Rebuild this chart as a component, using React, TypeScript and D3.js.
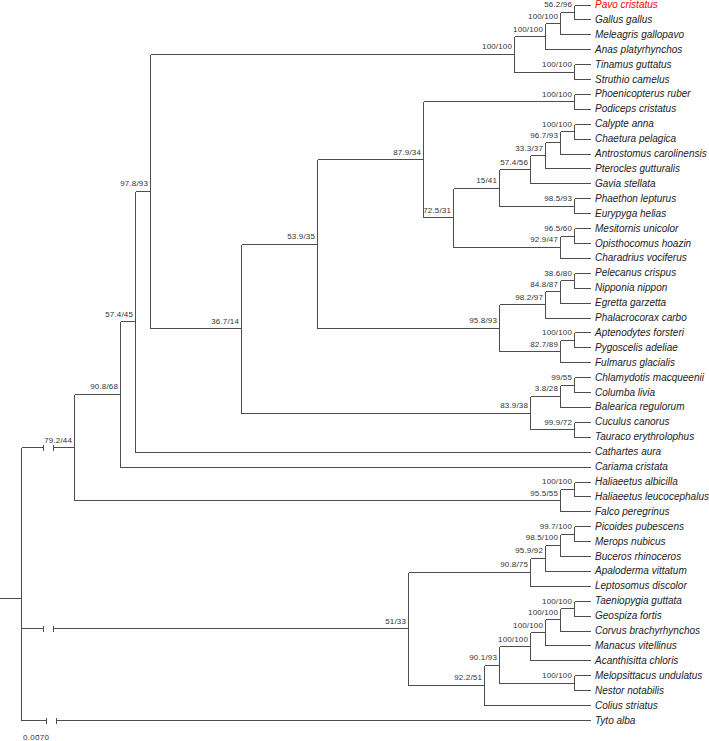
import React from "react";
import * as d3 from "d3";

// ---- Leaves (top to bottom) ----
const leafNames = [
  "Pavo cristatus", "Gallus gallus", "Meleagris gallopavo", "Anas platyrhynchos",
  "Tinamus guttatus", "Struthio camelus", "Phoenicopterus ruber", "Podiceps cristatus",
  "Calypte anna", "Chaetura pelagica", "Antrostomus carolinensis", "Pterocles gutturalis",
  "Gavia stellata", "Phaethon lepturus", "Eurypyga helias", "Mesitornis unicolor",
  "Opisthocomus hoazin", "Charadrius vociferus", "Pelecanus crispus", "Nipponia nippon",
  "Egretta garzetta", "Phalacrocorax carbo", "Aptenodytes forsteri", "Pygoscelis adeliae",
  "Fulmarus glacialis", "Chlamydotis macqueenii", "Columba livia", "Balearica regulorum",
  "Cuculus canorus", "Tauraco erythrolophus", "Cathartes aura", "Cariama cristata",
  "Haliaeetus albicilla", "Haliaeetus leucocephalus", "Falco peregrinus", "Picoides pubescens",
  "Merops nubicus", "Buceros rhinoceros", "Apaloderma vittatum", "Leptosomus discolor",
  "Taeniopygia guttata", "Geospiza fortis", "Corvus brachyrhynchos", "Manacus vitellinus",
  "Acanthisitta chloris", "Melopsittacus undulatus", "Nestor notabilis", "Colius striatus",
  "Tyto alba",
];
const leafParents = [
  "n8", "n8", "n7", "n6", "n9", "n9", "n13", "n13",
  "n19", "n19", "n18", "n17", "n16", "n20", "n20", "n22",
  "n22", "n21", "n26", "n26", "n25", "n24", "n28", "n28",
  "n27", "n31", "n31", "n30", "n32", "n32", "n3", "n2",
  "n34", "n34", "n33", "n39", "n39", "n38", "n37", "n36",
  "n45", "n45", "n44", "n43", "n42", "n46", "n46", "n40",
  "n0",
];

// ---- Internal nodes ----
const nodeIds = [
  "n0", "n1", "n2", "n3", "n4", "n5", "n6", "n7", "n8", "n9",
  "n10", "n11", "n12", "n13", "n14", "n15", "n16", "n17", "n18", "n19",
  "n20", "n21", "n22", "n23", "n24", "n25", "n26", "n27", "n28", "n29",
  "n30", "n31", "n32", "n33", "n34", "n35", "n36", "n37", "n38", "n39",
  "n40", "n41", "n42", "n43", "n44", "n45", "n46",
];
const nodeParents = [
  "", "n0", "n1", "n2", "n3", "n4", "n5", "n6", "n7", "n5",
  "n4", "n10", "n11", "n12", "n12", "n14", "n15", "n16", "n17", "n18",
  "n15", "n14", "n21", "n11", "n23", "n24", "n25", "n23", "n27", "n10",
  "n29", "n30", "n29", "n1", "n33", "n0", "n35", "n36", "n37", "n38",
  "n35", "n40", "n41", "n42", "n43", "n44", "n41",
];
const nodeSupport = [
  "", "79.2/44", "90.8/68", "57.4/45", "97.8/93", "100/100", "100/100", "100/100", "56.2/96", "100/100",
  "36.7/14", "53.9/35", "87.9/34", "100/100", "72.5/31", "15/41", "57.4/56", "33.3/37", "96.7/93", "100/100",
  "98.5/93", "92.9/47", "96.5/60", "95.8/93", "98.2/97", "84.8/87", "38.6/80", "82.7/89", "100/100", "83.9/38",
  "3.8/28", "99/55", "99.9/72", "95.5/55", "100/100", "51/33", "90.8/75", "95.9/92", "98.5/100", "99.7/100",
  "92.2/51", "90.1/93", "100/100", "100/100", "100/100", "100/100", "100/100",
];
const nodeDepth = [
  0, 0.053, 0.099, 0.114, 0.129, 0.493, 0.524, 0.539, 0.553, 0.553,
  0.220, 0.296, 0.402, 0.553, 0.432, 0.478, 0.509, 0.524, 0.539, 0.553,
  0.553, 0.539, 0.553, 0.478, 0.524, 0.539, 0.553, 0.539, 0.553, 0.509,
  0.539, 0.553, 0.553, 0.539, 0.553, 0.387, 0.509, 0.524, 0.539, 0.553,
  0.463, 0.478, 0.509, 0.524, 0.539, 0.553, 0.553,
];
const tipDepth = 0.569;

// ---- Truncated (broken) branches ----
const brokenBranches = ["n1", "n35", "Tyto alba"];
const breakFrom = [0.022, 0.022, 0.0247];
const breakTo = [0.032, 0.032, 0.0347];

const highlightedLeaf = "Pavo cristatus";
const scaleBarLabel = "0.0070";

const W = 709;
const H = 741;
const LINE = "#4d4d4d";
const FONT = "'Liberation Sans', Arial, Helvetica, sans-serif";

type Row = { id: string; parentId: string | null; depth: number; support: string; leaf: boolean };

export default function App() {
  const rows: Row[] = [
    ...nodeIds.map((id, i) => ({
      id,
      parentId: nodeParents[i] === "" ? null : nodeParents[i],
      depth: nodeDepth[i],
      support: nodeSupport[i],
      leaf: false,
    })),
    ...leafNames.map((name, i) => ({
      id: name,
      parentId: leafParents[i],
      depth: tipDepth,
      support: "",
      leaf: true,
    })),
  ];

  const root = d3
    .stratify<Row>()
    .id((d) => d.id)
    .parentId((d) => d.parentId)(rows);

  const x = d3.scaleLinear().domain([0, tipDepth]).range([21, 590]);
  const y = d3.scalePoint<string>().domain(leafNames).range([4.5, 720]);

  const yPos = new Map<string, number>();
  root.eachAfter((n: any) => {
    if (n.data.leaf) yPos.set(n.data.id, y(n.data.id) as number);
    else yPos.set(n.data.id, d3.mean(n.children, (c: any) => yPos.get(c.data.id)) as number);
  });

  const px = (v: number) => Math.round(v) + 0.5;

  const segs: { x1: number; y1: number; x2: number; y2: number }[] = [];
  const nodes = root.descendants();

  nodes.forEach((n: any) => {
    const ny = px(yPos.get(n.data.id)!);
    const nx = px(x(n.data.depth));
    if (n.parent) {
      const parX = px(x(n.parent.data.depth));
      const bi = brokenBranches.indexOf(n.data.id);
      if (bi >= 0) {
        const b1 = px(x(breakFrom[bi]));
        const b2 = px(x(breakTo[bi]));
        segs.push({ x1: parX, y1: ny, x2: b1, y2: ny });
        segs.push({ x1: b1, y1: ny - 3, x2: b1, y2: ny + 3 });
        segs.push({ x1: b2, y1: ny - 3, x2: b2, y2: ny + 3 });
        segs.push({ x1: b2, y1: ny, x2: nx, y2: ny });
      } else {
        segs.push({ x1: parX, y1: ny, x2: nx, y2: ny });
      }
    } else {
      segs.push({ x1: 0, y1: ny, x2: nx, y2: ny });
    }
    if (n.children) {
      const ys = n.children.map((c: any) => yPos.get(c.data.id)!);
      segs.push({ x1: nx, y1: px(d3.min(ys)!), x2: nx, y2: px(d3.max(ys)!) });
    }
  });

  return (
    <svg
      width={W}
      height={H}
      style={{ position: "absolute", left: 0, top: 0, background: "#fff" }}
    >
      <g shapeRendering="crispEdges">
        {segs.map((s, i) => (
          <line key={i} x1={s.x1} y1={s.y1} x2={s.x2} y2={s.y2} stroke={LINE} strokeWidth={1} />
        ))}
      </g>
      {nodes
        .filter((n: any) => !n.data.leaf && n.data.support)
        .map((n: any) => (
          <text
            key={"s" + n.data.id}
            x={x(n.data.depth) - 2}
            y={yPos.get(n.data.id)! - 4.5}
            textAnchor="end"
            fontFamily={FONT}
            fontSize={8}
            letterSpacing={0.15}
            fill="#333"
          >
            {n.data.support}
          </text>
        ))}
      {nodes
        .filter((n: any) => n.data.leaf)
        .map((n: any) => (
          <text
            key={"l" + n.data.id}
            x={x(tipDepth) + 5}
            y={yPos.get(n.data.id)!}
            dy="0.35em"
            fontFamily={FONT}
            fontSize={10}
            fontStyle="italic"
            fill={n.data.id === highlightedLeaf ? "#ff0000" : "#222"}
          >
            {n.data.id}
          </text>
        ))}
      <line x1={37} y1={735.5} x2={39} y2={735.5} stroke={LINE} strokeWidth={1} />
      <text x={23} y={740} fontFamily={FONT} fontSize={8} letterSpacing={0.3} fill="#333">
        {scaleBarLabel}
      </text>
    </svg>
  );
}
